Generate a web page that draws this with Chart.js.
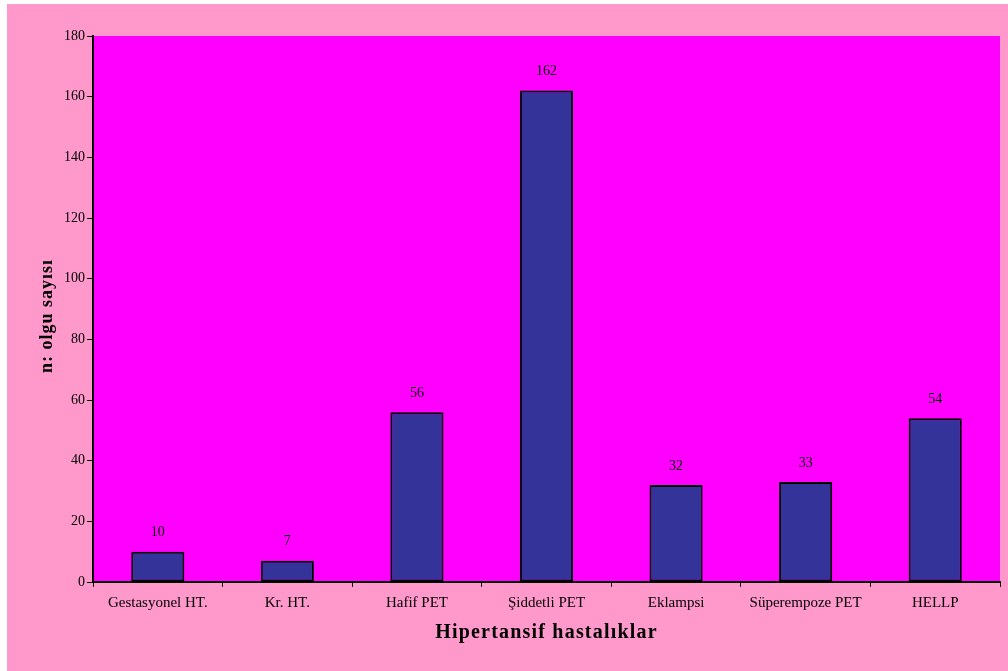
<!DOCTYPE html>
<html><head><meta charset="utf-8">
<style>html,body{margin:0;padding:0;background:#fff}canvas{display:block}</style>
<script src="https://cdn.jsdelivr.net/npm/chart.js@4/dist/chart.umd.min.js"></script>
</head><body>
<canvas id="c" width="1008" height="671"></canvas>
<script>
const categories = ["Gestasyonel HT.", "Kr. HT.", "Hafif PET", "Şiddetli PET", "Eklampsi", "Süperempoze PET", "HELLP"];
const values = [10, 7, 56, 162, 32, 33, 54];
const yMin = 0, yMax = 180, yStep = 20;
const xTitle = "Hipertansif hastalıklar";
const yTitle = "n: olgu sayısı";

const FONT = "'Liberation Serif', 'Times New Roman', serif";

const bgPlugin = {
  id: 'bg',
  beforeDraw(chart) {
    const {ctx, chartArea: a} = chart;
    ctx.save();
    ctx.fillStyle = '#ffffff';
    ctx.fillRect(0, 0, chart.width, chart.height);
    ctx.fillStyle = '#FF99CC';
    ctx.fillRect(7, 4, chart.width - 7, chart.height - 4);
    ctx.fillStyle = '#FF00FF';
    ctx.fillRect(a.left, a.top, a.right - a.left, a.bottom - a.top);
    ctx.restore();
  }
};

const labelPlugin = {
  id: 'labels',
  afterDatasetsDraw(chart) {
    const {ctx} = chart;
    const meta = chart.getDatasetMeta(0);
    ctx.save();
    ctx.font = "14px " + FONT;
    ctx.fillStyle = '#000';
    ctx.textAlign = 'center';
    ctx.textBaseline = 'middle';
    meta.data.forEach((bar, i) => {
      ctx.fillText(String(values[i]), bar.x, bar.y - 19);
    });
    ctx.restore();
  },
  afterDraw(chart) {
    const {ctx, chartArea: a} = chart;
    ctx.save();
    ctx.fillStyle = '#000';
    ctx.textAlign = 'center';
    ctx.textBaseline = 'middle';
    ctx.font = "bold 20px " + FONT;
    ctx.letterSpacing = '1.2px';
    ctx.fillText(xTitle, (a.left + a.right) / 2, 633);
    ctx.font = "bold 18px " + FONT;
    ctx.letterSpacing = '1px';
    ctx.translate(47, (a.top + a.bottom) / 2 + 7);
    ctx.rotate(-Math.PI / 2);
    ctx.fillText(yTitle, 0, 0);
    ctx.restore();
  }
};

new Chart(document.getElementById('c'), {
  type: 'bar',
  data: {
    labels: categories,
    datasets: [{
      data: values,
      backgroundColor: '#333399',
      borderColor: '#000000',
      borderWidth: 2,
      borderSkipped: false,
      barPercentage: 0.41,
      categoryPercentage: 1.0
    }]
  },
  options: {
    responsive: false,
    animation: false,
    devicePixelRatio: 1,
    layout: {padding: {left: 0, top: 36, right: 8, bottom: 0}},
    plugins: {legend: {display: false}, tooltip: {enabled: false}},
    scales: {
      x: {
        offset: true,
        grid: {offset: true, drawOnChartArea: false, drawTicks: true, tickLength: 5, color: '#000', lineWidth: 1},
        border: {display: true, color: '#000', width: 2},
        ticks: {color: '#000', font: {family: FONT, size: 15}, padding: 7, maxRotation: 0, autoSkip: false},
        afterFit(s) { s.height = 89; }
      },
      y: {
        min: yMin, max: yMax,
        grid: {drawOnChartArea: false, drawTicks: true, tickLength: 6, color: '#000', lineWidth: 1},
        border: {display: true, color: '#000', width: 2},
        ticks: {stepSize: yStep, color: '#000', font: {family: FONT, size: 14}, padding: 2},
        afterFit(s) { s.width = 93; }
      }
    }
  },
  plugins: [bgPlugin, labelPlugin]
});
</script>
</body></html>
